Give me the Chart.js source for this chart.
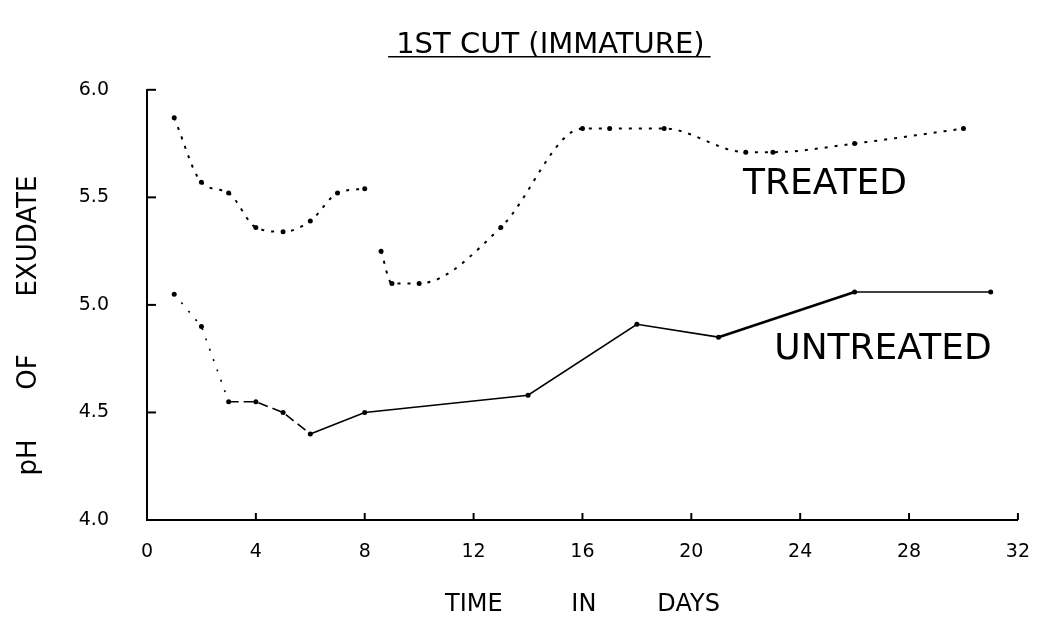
<!DOCTYPE html>
<html><head><meta charset="utf-8">
<script src="https://cdn.jsdelivr.net/npm/chart.js@4.4.1/dist/chart.umd.min.js"></script>
<style>html,body{margin:0;padding:0;background:#fff;}#wrap{width:1043px;height:635px;position:relative;}</style>
</head><body><div id="wrap"><canvas id="c"></canvas></div>
<script>
// ---- data ----
const titleText = '1ST CUT (IMMATURE)';
const xAxisTitle = 'TIME         IN        DAYS';
const yAxisTitle = 'pH      OF       EXUDATE';
const xTickValues = [0, 4, 8, 12, 16, 20, 24, 28, 32];
const yTickValues = [4.0, 4.5, 5.0, 5.5, 6.0];
const treatedDaysA = [1, 2, 3, 4, 5, 6, 7, 8];
const treatedPHA   = [5.87, 5.57, 5.52, 5.36, 5.34, 5.39, 5.52, 5.54];
const treatedDaysB = [8.6, 9, 10, 13, 16, 17, 19, 22, 23, 26, 30];
const treatedPHB   = [5.25, 5.10, 5.10, 5.36, 5.82, 5.82, 5.82, 5.71, 5.71, 5.75, 5.82];
const untreatedDays = [1, 2, 3, 4, 5, 6, 8, 14, 18, 21, 26, 31];
const untreatedPH   = [5.05, 4.90, 4.55, 4.55, 4.50, 4.40, 4.50, 4.58, 4.91, 4.85, 5.06, 5.06];
const seriesNames = ['TREATED', 'UNTREATED'];
// label anchors (day, pH) for the in-plot series names
const seriesLabelAnchors = [[21.9, 5.56], [23.05, 4.79]];

const FONT = "'DejaVu Sans', 'Liberation Sans', sans-serif";
Chart.defaults.font.family = FONT;
Chart.defaults.color = '#000';

const pts = (xs, ys) => xs.map((x, i) => ({x: x, y: ys[i]}));
const TITLE_LEAD = ' '.repeat(8);     // nudges the centred title to the right, as in the original
const Y_TITLE_TAIL = ' '.repeat(5);   // nudges the rotated axis title downward

const inkPlugin = {
  id: 'ink',
  beforeDraw(chart) {
    const c = chart.ctx;
    c.save(); c.fillStyle = '#fff'; c.fillRect(0, 0, chart.width, chart.height); c.restore();
  },
  afterDraw(chart) {
    const c = chart.ctx;
    const xs = chart.scales.x, ys = chart.scales.y;
    c.save();
    c.strokeStyle = '#000'; c.lineWidth = 2;
    // inward tick marks
    xTickValues.forEach(v => {
      if (v === 0) return;
      const px = xs.getPixelForValue(v);
      c.beginPath(); c.moveTo(px, ys.bottom); c.lineTo(px, ys.bottom - 7); c.stroke();
    });
    yTickValues.forEach(v => {
      if (v === 4.0) return;
      const py = ys.getPixelForValue(v);
      c.beginPath(); c.moveTo(xs.left, py); c.lineTo(xs.left + 9, py); c.stroke();
    });
    // title underline
    const tb = chart.titleBlock;
    if (tb) {
      c.font = '29px ' + FONT;
      const full = c.measureText(TITLE_LEAD + titleText).width;
      const lead = c.measureText(TITLE_LEAD).width;
      const w = c.measureText(titleText).width;
      const x0 = tb.left + tb.width / 2 - full / 2 + lead;
      const uy = tb.top + tb.height - 33;
      c.lineWidth = 1.6;
      c.beginPath(); c.moveTo(x0 - 8, uy); c.lineTo(x0 + w + 6, uy); c.stroke();
    }
    // series names
    c.fillStyle = '#000';
    c.font = '36px ' + FONT;
    c.textBaseline = 'middle'; c.textAlign = 'left';
    seriesNames.forEach((n, i) => {
      const a = seriesLabelAnchors[i];
      c.fillText(n, xs.getPixelForValue(a[0]), ys.getPixelForValue(a[1]));
    });
    c.restore();
  }
};

const treatedStyle = {
  borderColor: '#000', backgroundColor: '#000', borderWidth: 2,
  borderDash: [3, 7], pointRadius: 2.5, pointBorderWidth: 0,
  pointBackgroundColor: '#000', cubicInterpolationMode: 'monotone', fill: false
};

new Chart(document.getElementById('c'), {
  type: 'line',
  data: {
    datasets: [
      Object.assign({label: seriesNames[0], data: pts(treatedDaysA, treatedPHA)}, treatedStyle),
      Object.assign({label: seriesNames[0] + ' (cont.)', data: pts(treatedDaysB, treatedPHB)}, treatedStyle),
      {
        label: seriesNames[1], data: pts(untreatedDays, untreatedPH),
        borderColor: '#000', backgroundColor: '#000', borderWidth: 1.6,
        pointRadius: 2.5, pointBorderWidth: 0, pointBackgroundColor: '#000',
        tension: 0, fill: false,
        segment: {
          borderDash: ctx => ctx.p0DataIndex < 2 ? [2, 9] : (ctx.p0DataIndex < 5 ? [10, 5] : undefined),
          borderWidth: ctx => ctx.p0DataIndex === 9 ? 2.6 : 1.6
        }
      }
    ]
  },
  options: {
    responsive: true, maintainAspectRatio: false, animation: false,
    layout: {padding: {left: 8, right: 24, top: 0, bottom: 0}},
    plugins: {
      legend: {display: false},
      tooltip: {enabled: false},
      title: {
        display: true, text: TITLE_LEAD + titleText, color: '#000',
        font: {family: FONT, size: 29, weight: 'normal', lineHeight: 1.2},
        padding: {top: 28, bottom: 27}
      }
    },
    scales: {
      x: {
        type: 'linear', min: 0, max: 32,
        afterBuildTicks: s => { s.ticks = xTickValues.map(v => ({value: v})); },
        grid: {display: false}, border: {display: true, color: '#000', width: 2},
        ticks: {color: '#000', font: {size: 19}, padding: 13, autoSkip: false, maxRotation: 0},
        title: {display: true, text: xAxisTitle, color: '#000', font: {size: 24}, padding: {top: 0, bottom: 16}},
        afterFit: s => { s.height = 115; }
      },
      y: {
        type: 'linear', min: 4, max: 6,
        afterBuildTicks: s => { s.ticks = yTickValues.map(v => ({value: v})); },
        grid: {display: false}, border: {display: true, color: '#000', width: 2},
        ticks: {color: '#000', font: {size: 19}, padding: 30, callback: v => Number(v).toFixed(1)},
        title: {display: true, text: yAxisTitle + Y_TITLE_TAIL, color: '#000', font: {size: 26}, padding: {top: 6, bottom: 0}},
        afterFit: s => { s.width = 139; }
      }
    }
  },
  plugins: [inkPlugin]
});
</script>
</body></html>
